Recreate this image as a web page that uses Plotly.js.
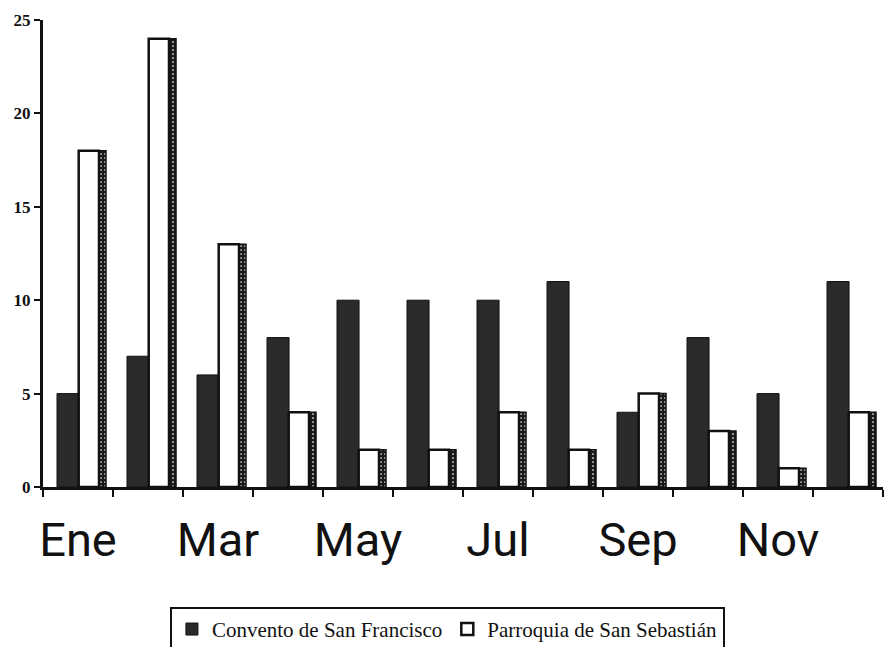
<!DOCTYPE html>
<html>
<head>
<meta charset="utf-8">
<script src="https://cdn.plot.ly/plotly-3.0.1.min.js"></script>
<style>
  html, body { margin: 0; padding: 0; background: #fff; }
  #chart { width: 886px; height: 647px; }
</style>
</head>
<body>
<div id="chart"></div>
<script>
// Monthly counts for the two parishes
const months = ['Ene', 'Feb', 'Mar', 'Abr', 'May', 'Jun', 'Jul', 'Ago', 'Sep', 'Oct', 'Nov', 'Dic'];
const monthLabels = ['Ene', '', 'Mar', '', 'May', '', 'Jul', '', 'Sep', '', 'Nov', ''];
const conventoSanFrancisco = [5, 7, 6, 8, 10, 10, 10, 11, 4, 8, 5, 11];
const parroquiaSanSebastian = [18, 24, 13, 4, 2, 2, 4, 2, 5, 3, 1, 4];
const yTicks = [0, 5, 10, 15, 20, 25];

const traces = [
  {
    type: 'bar',
    name: 'Convento de San Francisco',
    x: months,
    y: conventoSanFrancisco,
    offset: -0.30,
    width: 0.315,
    marker: { color: '#2a2a2a', line: { color: '#111', width: 1 } },
    hoverinfo: 'x+y'
  },
  {
    // shaded depth strip on the right of the white bars
    type: 'bar',
    name: 'Parroquia de San Sebastián',
    x: months,
    y: parroquiaSanSebastian,
    offset: 0.29,
    width: 0.11,
    showlegend: false,
    hoverinfo: 'skip',
    marker: {
      color: '#1a1a1a',
      line: { color: '#111', width: 1.5 },
      pattern: { shape: '.', fgcolor: '#ffffff', bgcolor: '#1a1a1a', size: 4, solidity: 0.15 }
    }
  },
  {
    type: 'bar',
    name: 'Parroquia de San Sebastián',
    x: months,
    y: parroquiaSanSebastian,
    offset: 0.01,
    width: 0.29,
    marker: { color: '#ffffff', line: { color: '#111', width: 2.5 } },
    hoverinfo: 'x+y'
  }
];

const layout = {
  width: 886,
  height: 647,
  paper_bgcolor: '#ffffff',
  plot_bgcolor: '#ffffff',
  margin: { l: 43, r: 3, t: 20, b: 160 },
  barmode: 'overlay',
  showlegend: true,
  xaxis: {
    type: 'category',
    automargin: false,
    range: [-0.5, 11.5],
    tickmode: 'array',
    tickvals: months,
    ticktext: monthLabels,
    tickson: 'boundaries',
    tickangle: 0,
    ticks: 'outside',
    ticklen: 7,
    tickwidth: 2,
    tickcolor: '#111',
    showline: true,
    linecolor: '#111',
    linewidth: 3,
    showgrid: false,
    zeroline: false,
    ticklabelstandoff: 10,
    tickfont: { family: 'Roboto, Arial, sans-serif', size: 47, color: '#111' }
  },
  yaxis: {
    automargin: false,
    range: [0, 25],
    tickmode: 'array',
    tickvals: yTicks,
    ticktext: yTicks.map(String),
    ticks: 'outside',
    ticklen: 6,
    tickwidth: 2,
    tickcolor: '#111',
    showline: true,
    linecolor: '#111',
    linewidth: 3,
    showgrid: false,
    zeroline: false,
    tickfont: { family: '"Liberation Serif", "Times New Roman", serif', size: 17, color: '#111', weight: 'bold' }
  },
  legend: {
    orientation: 'h',
    xref: 'container',
    yref: 'container',
    x: 0.505,
    xanchor: 'center',
    y: 0.062,
    yanchor: 'top',
    bordercolor: '#111',
    borderwidth: 2,
    bgcolor: '#ffffff',
    font: { family: '"Liberation Serif", "Times New Roman", serif', size: 21, color: '#111' },
    itemwidth: 30,
    tracegroupgap: 0
  }
};

Plotly.newPlot('chart', traces, layout, { displayModeBar: false, staticPlot: true });
</script>
</body>
</html>
